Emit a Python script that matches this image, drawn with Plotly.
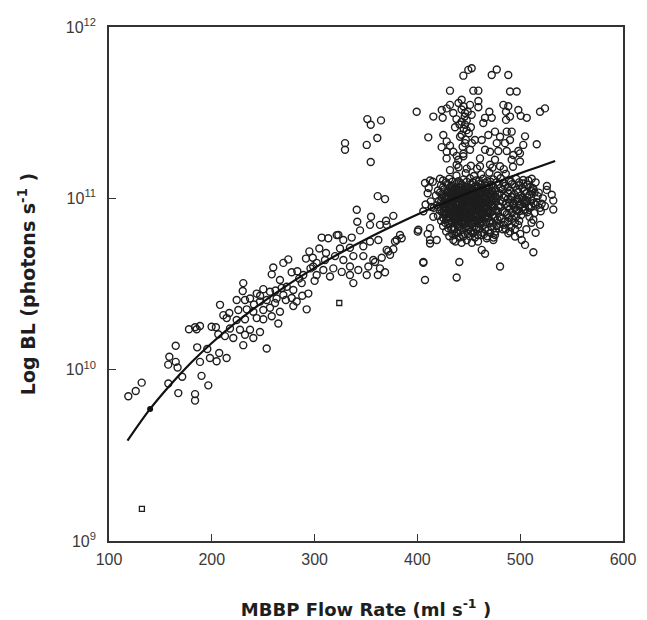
import plotly.graph_objects as go

# ---- data (flow rate in ml/s, BL in photons/s) ----
low_points = [
    (118.8, 7.0e9), (126, 7.5e9), (131.8, 8.4e9), (164.9, 1.38e10), (158.7, 1.19e10),
    (157.6, 1.07e10), (164.9, 1.11e10), (166.7, 1.03e10), (157.7, 8.3e9), (167.4, 7.3e9),
    (171.2, 9.1e9), (177.8, 1.72e10), (183.7, 1.77e10), (188.5, 1.80e10), (185.3, 1.72e10),
    (199.8, 1.78e10), (204, 1.77e10), (185.8, 1.35e10), (188.5, 1.11e10), (198.2, 1.17e10),
    (195.6, 1.32e10), (190, 9.2e9), (196.6, 8.1e9), (183.7, 7.2e9), (183.7, 6.6e9),
    (207.2, 1.25e10), (204.7, 1.12e10), (214.4, 1.17e10), (208, 2.39e10), (211.2, 2.08e10),
    (206.3, 1.61e10), (212.8, 1.57e10), (217, 2.14e10),
]

mid_points = [
    (306.9, 5.9e10), (313.3, 5.85e10), (321.5, 6.1e10), (294.9, 4.9e10), (304.6, 5.1e10),
    (311.1, 4.8e10), (269.6, 4.2e10), (274.4, 4.4e10), (291.6, 4.45e10), (298.2, 4.5e10),
    (302, 4.2e10), (259.8, 3.95e10), (258.3, 3.6e10), (277.7, 3.7e10), (283.2, 3.75e10),
    (289, 3.57e10), (266.3, 3.34e10), (230.6, 3.2e10), (230.1, 2.88e10), (243.7, 2.78e10),
    (250.1, 2.95e10), (256.6, 2.85e10), (272.9, 3.05e10), (279.3, 2.92e10), (287.5, 3.2e10),
    (293.9, 2.78e10), (224.2, 2.55e10), (232.3, 2.55e10), (237.2, 2.6e10), (246.9, 2.5e10),
    (253.4, 2.55e10), (261.5, 2.45e10), (269.6, 2.73e10), (277.7, 2.62e10), (282.6, 2.5e10),
    (225.8, 2.23e10), (234, 2.25e10), (240.4, 2.18e10), (250.1, 2.23e10), (256.6, 2.3e10),
    (266.3, 2.18e10), (279.3, 2.35e10), (292.3, 2.25e10), (214.5, 2.0e10), (224.2, 1.95e10),
    (232.3, 1.97e10), (243.7, 2.0e10), (250.1, 1.97e10), (258.3, 2.05e10), (264.7, 1.86e10),
    (217.7, 1.74e10), (227.4, 1.71e10), (237.2, 1.71e10), (246.9, 1.66e10), (220.9, 1.53e10),
    (232.3, 1.6e10), (240.4, 1.53e10), (230.6, 1.39e10), (253.4, 1.33e10),
    (262, 2.9e10), (268, 3.0e10), (285, 3.4e10), (247, 2.7e10), (272, 2.55e10),
    (288, 2.7e10), (300, 3.3e10), (296, 3.9e10), (241, 2.4e10), (263, 2.6e10),
]

upper_mid_points = [
    (354.6, 1.63e11), (407.4, 1.23e11), (412.3, 1.27e11), (361.4, 1.03e11), (368.5, 9.9e10),
    (341, 8.57e10), (354.9, 7.8e10), (341.5, 7.3e10), (353.9, 7.0e10), (369.5, 7.4e10),
    (376.6, 7.9e10), (400.3, 6.4e10), (410, 6.2e10), (412.3, 5.71e10), (413.9, 8.9e10),
    (405.8, 8.4e10), (323.1, 6.11e10), (327.9, 5.71e10), (336.1, 5.9e10), (344.2, 6.5e10),
    (363.6, 7.0e10), (370.1, 7.0e10), (383.1, 6.11e10), (379.9, 5.71e10), (384.7, 5.85e10),
    (362, 5.71e10), (353.9, 5.6e10), (347.4, 5.25e10), (370.1, 5.0e10), (376.6, 5.05e10),
    (373.4, 4.68e10), (324.7, 5.1e10), (334.4, 5.15e10), (310.1, 4.37e10), (319.9, 4.6e10),
    (328, 4.37e10), (337.7, 4.6e10), (347.4, 4.6e10), (357.1, 4.37e10), (365.3, 4.5e10),
    (298.7, 4.0e10), (308.5, 3.82e10), (318.2, 3.9e10), (326.4, 3.72e10), (334.4, 4.0e10),
    (342.5, 3.82e10), (352.3, 4.0e10), (363.6, 3.9e10), (302, 3.57e10), (315, 3.5e10),
    (334.4, 3.57e10), (350.7, 3.57e10), (405.8, 4.2e10), (351.3, 2.9e11), (354.6, 2.69e11),
    (364.6, 2.85e11), (399.3, 3.2e11), (329.6, 2.1e11), (329.6, 1.92e11), (350.7, 2.05e11),
    (361, 2.25e11), (378.2, 5.6e10), (371.7, 4.9e10), (337.7, 3.2e10), (358.8, 4.25e10),
    (368.5, 3.7e10), (361.5, 3.57e10),
]

high_points = [
    (444.7, 5.2e11), (449.5, 5.62e11), (452.8, 5.75e11), (472.3, 5.25e11), (477.2, 5.65e11),
    (488.4, 5.25e11), (431.7, 4.25e11), (454.4, 4.25e11), (459.3, 4.25e11), (490.1, 4.2e11),
    (496.6, 4.2e11), (415.5, 3.0e11), (423.7, 3.28e11), (424.6, 2.95e11), (431.7, 3.51e11),
    (428.5, 3.35e11), (434.9, 3.15e11), (443.1, 3.76e11), (444.7, 3.45e11), (451.2, 3.51e11),
    (446.3, 3.15e11), (452.8, 3.07e11), (459.3, 3.7e11), (459.3, 3.4e11), (443.1, 2.8e11),
    (446.3, 2.69e11), (436.6, 2.6e11), (447.9, 2.5e11), (470, 3.2e11), (465.8, 2.95e11),
    (472.3, 2.95e11), (464.1, 2.75e11), (483.6, 3.51e11), (488.4, 3.45e11), (486.2, 3.2e11),
    (490.1, 3.0e11), (486.2, 2.87e11), (498.2, 3.28e11), (500.5, 3.03e11), (506.4, 2.95e11),
    (519.3, 3.2e11), (524.1, 3.35e11), (410.6, 2.27e11), (425.2, 2.34e11), (428.5, 2.15e11),
    (423.6, 1.99e11), (431.7, 2.03e11), (434.9, 1.87e11), (441.5, 2.29e11), (446.3, 2.1e11),
    (451.2, 1.92e11), (444.7, 1.76e11), (456, 2.19e11), (462.6, 2.19e11), (469, 2.34e11),
    (475.5, 2.45e11), (480.4, 2.29e11), (486.9, 2.45e11), (491.7, 2.45e11), (477.2, 2.1e11),
    (485.2, 2.1e11), (490.1, 2.19e11), (504.7, 2.3e11), (516.1, 2.07e11), (503, 2.05e11),
    (465.8, 1.92e11), (470.6, 1.87e11), (478.7, 1.89e11), (486.9, 1.89e11), (498.2, 1.89e11),
    (428.4, 1.71e11), (439.8, 1.68e11), (460.9, 1.71e11), (475.5, 1.68e11), (491.7, 1.68e11),
    (499.8, 1.64e11), (460.9, 1.54e11), (470.6, 1.57e11), (480.4, 1.54e11), (438.2, 1.57e11),
    (448, 1.49e11), (431.7, 1.46e11), (428.5, 1.87e11), (438.2, 1.77e11), (444.7, 1.82e11),
    (493.3, 1.79e11), (499.8, 1.83e11), (422, 1.3e11), (511.2, 1.3e11), (525.8, 1.12e11),
    (530.7, 1.05e11), (532.2, 9.7e10), (532.2, 8.6e10), (503, 1.22e11), (511.2, 1.1e11),
    (519.3, 8.8e10), (520.9, 9.3e10), (519.3, 7.0e10), (512.8, 7.5e10), (400.9, 6.55e10),
    (412.3, 6.7e10), (415.5, 7.8e10), (412.3, 5.45e10), (418.8, 5.71e10), (434.9, 5.71e10),
    (444.7, 5.98e10), (454.4, 6.25e10), (467.4, 5.85e10), (473.9, 5.71e10), (462.6, 5.0e10),
    (465.8, 4.75e10), (475.5, 6.11e10), (488.4, 6.25e10), (501.5, 5.71e10), (504.7, 5.35e10),
    (495, 5.98e10), (512.8, 4.85e10), (405.8, 4.25e10), (440.8, 4.25e10), (480.4, 4.0e10),
    (407.4, 3.34e10), (438.2, 3.45e10),
    (440, 3.6e11), (443, 3.3e11), (446, 3.0e11), (448, 2.85e11), (441, 2.7e11),
    (445, 2.55e11), (450, 2.4e11), (443, 2.35e11), (447, 2.2e11), (452, 2.6e11),
    (449, 3.2e11), (438, 2.9e11), (444, 2.0e11), (453, 2.1e11),
    (440, 1.52e11), (452, 1.55e11), (458, 1.49e11), (473, 1.51e11), (484, 1.48e11), (493, 1.53e11),
]

core_points = [
    (438, 1.36e11), (447, 1.40e11), (455, 1.35e11), (462, 1.38e11), (470, 1.41e11), (478, 1.36e11), (486, 1.39e11),
    (425, 1.27e11), (431, 1.30e11), (440, 1.26e11), (445, 1.29e11), (451, 1.31e11), (457, 1.27e11), (464, 1.30e11),
    (468, 1.26e11), (474, 1.29e11), (481, 1.31e11), (489, 1.27e11), (496, 1.30e11), (503, 1.28e11),
    (423, 1.19e11), (429, 1.21e11), (434, 1.18e11), (438, 1.22e11), (443, 1.20e11), (448, 1.17e11), (452, 1.21e11),
    (457, 1.19e11), (461, 1.22e11), (467, 1.18e11), (472, 1.20e11), (479, 1.21e11), (485, 1.18e11), (492, 1.21e11),
    (499, 1.19e11), (507, 1.20e11),
    (420, 1.11e11), (426, 1.13e11), (431, 1.10e11), (436, 1.14e11), (440, 1.11e11), (445, 1.13e11), (449, 1.10e11),
    (454, 1.12e11), (459, 1.14e11), (463, 1.11e11), (469, 1.12e11), (476, 1.10e11), (483, 1.13e11), (490, 1.11e11),
    (497, 1.12e11), (504, 1.10e11), (513, 1.13e11),
    (418, 1.04e11), (424, 1.06e11), (428, 1.03e11), (433, 1.05e11), (437, 1.07e11), (442, 1.04e11), (446, 1.06e11),
    (451, 1.03e11), (456, 1.05e11), (460, 1.07e11), (466, 1.04e11), (471, 1.06e11), (478, 1.05e11), (486, 1.03e11),
    (494, 1.06e11), (501, 1.04e11), (509, 1.05e11), (517, 1.03e11),
    (421, 9.7e10), (427, 9.9e10), (432, 9.6e10), (436, 9.8e10), (441, 1.00e11), (445, 9.7e10), (449, 9.9e10),
    (453, 9.6e10), (458, 9.8e10), (463, 1.00e11), (468, 9.7e10), (474, 9.9e10), (481, 9.7e10), (488, 9.9e10),
    (495, 9.6e10), (503, 9.8e10), (511, 9.7e10),
    (419, 9.1e10), (425, 9.3e10), (430, 9.0e10), (434, 9.2e10), (438, 9.4e10), (443, 9.1e10), (447, 9.3e10),
    (451, 9.0e10), (456, 9.2e10), (461, 9.4e10), (466, 9.1e10), (472, 9.2e10), (479, 9.0e10), (486, 9.3e10),
    (493, 9.1e10), (500, 9.2e10), (508, 9.0e10), (515, 9.2e10),
    (422, 8.5e10), (427, 8.7e10), (432, 8.4e10), (436, 8.6e10), (440, 8.8e10), (444, 8.5e10), (449, 8.7e10),
    (454, 8.4e10), (458, 8.6e10), (464, 8.8e10), (469, 8.5e10), (476, 8.6e10), (483, 8.4e10), (490, 8.7e10),
    (497, 8.5e10), (505, 8.6e10),
    (420, 7.9e10), (426, 8.1e10), (430, 7.8e10), (435, 8.0e10), (439, 8.2e10), (443, 7.9e10), (447, 8.1e10),
    (452, 7.8e10), (457, 8.0e10), (462, 8.2e10), (467, 7.9e10), (473, 8.0e10), (480, 7.8e10), (487, 8.1e10),
    (494, 7.9e10), (501, 8.0e10), (509, 7.8e10),
    (423, 7.4e10), (428, 7.6e10), (433, 7.3e10), (437, 7.5e10), (441, 7.7e10), (446, 7.4e10), (450, 7.6e10),
    (455, 7.3e10), (460, 7.5e10), (466, 7.7e10), (471, 7.4e10), (478, 7.5e10), (485, 7.3e10), (492, 7.6e10),
    (499, 7.4e10),
    (425, 6.9e10), (430, 7.1e10), (435, 6.8e10), (439, 7.0e10), (444, 7.2e10), (448, 6.9e10), (453, 7.1e10),
    (458, 6.8e10), (464, 7.0e10), (470, 7.2e10), (477, 6.9e10), (484, 7.0e10), (491, 6.8e10), (498, 7.0e10),
    (428, 6.4e10), (433, 6.6e10), (438, 6.3e10), (442, 6.5e10), (447, 6.7e10), (452, 6.4e10), (457, 6.6e10),
    (463, 6.3e10), (469, 6.5e10), (476, 6.4e10), (483, 6.6e10), (490, 6.4e10),
    (431, 6.0e10), (436, 6.1e10), (441, 5.9e10), (446, 6.2e10), (451, 6.0e10), (456, 5.9e10), (462, 6.1e10),
    (468, 6.0e10), (474, 5.9e10),
    (437, 5.6e10), (443, 5.5e10), (448, 5.7e10), (453, 5.5e10), (459, 5.6e10),
    (512, 1.15e11), (518, 1.08e11), (522, 1.0e11), (516, 9.5e10), (520, 8.4e10), (524, 9.0e10), (514, 8.2e10),
    (511, 7.2e10), (506, 6.6e10), (515, 6.3e10), (500, 6.2e10), (495, 6.6e10), (526, 1.18e11), (508, 1.27e11),
    (515, 1.24e11), (410, 1.07e11), (413, 9.6e10), (416, 8.8e10), (411, 1.15e11), (415, 1.25e11), (408, 9.2e10),
]

core_fill_points = [
    (428, 1.24e11), (434, 1.25e11), (442, 1.23e11), (448, 1.25e11), (454, 1.24e11), (460, 1.26e11),
    (466, 1.23e11), (471, 1.25e11), (477, 1.24e11), (484, 1.23e11), (491, 1.25e11), (499, 1.24e11),
    (425, 1.16e11), (432, 1.17e11), (436, 1.15e11), (441, 1.16e11), (446, 1.17e11), (450, 1.15e11),
    (455, 1.16e11), (459, 1.17e11), (464, 1.15e11), (470, 1.16e11), (474, 1.17e11), (481, 1.15e11),
    (488, 1.16e11), (495, 1.17e11), (502, 1.15e11), (510, 1.16e11),
    (422, 1.08e11), (429, 1.09e11), (434, 1.07e11), (438, 1.08e11), (443, 1.09e11), (447, 1.07e11),
    (452, 1.08e11), (457, 1.09e11), (462, 1.07e11), (467, 1.08e11), (473, 1.09e11), (480, 1.07e11),
    (488, 1.08e11), (498, 1.09e11), (506, 1.07e11), (514, 1.08e11),
    (424, 1.01e11), (430, 1.02e11), (434, 1.00e11), (439, 1.01e11), (443, 1.02e11), (447, 1.00e11),
    (451, 1.01e11), (455, 1.02e11), (461, 1.00e11), (465, 1.01e11), (471, 1.02e11), (477, 1.00e11),
    (484, 1.01e11), (491, 1.02e11), (499, 1.00e11), (507, 1.01e11),
    (423, 9.5e10), (428, 9.4e10), (433, 9.6e10), (437, 9.5e10), (441, 9.4e10), (445, 9.6e10),
    (449, 9.5e10), (454, 9.4e10), (459, 9.6e10), (464, 9.5e10), (470, 9.4e10), (476, 9.6e10),
    (483, 9.5e10), (490, 9.4e10), (498, 9.6e10), (506, 9.5e10), (513, 9.4e10),
    (421, 8.9e10), (426, 9.0e10), (431, 8.8e10), (435, 8.9e10), (439, 9.0e10), (443, 8.8e10),
    (448, 8.9e10), (452, 9.0e10), (457, 8.8e10), (462, 8.9e10), (467, 9.0e10), (474, 8.8e10),
    (481, 8.9e10), (488, 9.0e10), (495, 8.8e10), (503, 8.9e10), (511, 9.0e10),
    (424, 8.3e10), (429, 8.2e10), (433, 8.4e10), (438, 8.3e10), (442, 8.2e10), (446, 8.4e10),
    (451, 8.3e10), (455, 8.2e10), (460, 8.4e10), (465, 8.3e10), (471, 8.2e10), (478, 8.4e10),
    (485, 8.3e10), (492, 8.2e10), (499, 8.4e10), (507, 8.3e10),
    (425, 7.7e10), (431, 7.8e10), (435, 7.6e10), (439, 7.7e10), (444, 7.8e10), (448, 7.6e10),
    (453, 7.7e10), (458, 7.8e10), (463, 7.6e10), (469, 7.7e10), (475, 7.8e10), (482, 7.6e10),
    (489, 7.7e10), (496, 7.8e10),
    (427, 7.2e10), (432, 7.1e10), (437, 7.3e10), (442, 7.2e10), (446, 7.1e10), (451, 7.3e10),
    (456, 7.2e10), (461, 7.1e10), (467, 7.3e10), (473, 7.2e10), (480, 7.1e10), (488, 7.3e10), (495, 7.2e10),
    (430, 6.7e10), (436, 6.6e10), (440, 6.8e10), (445, 6.7e10), (450, 6.6e10), (455, 6.8e10),
    (460, 6.7e10), (466, 6.6e10), (472, 6.8e10), (479, 6.7e10), (486, 6.6e10),
    (434, 6.2e10), (439, 6.3e10), (444, 6.1e10), (449, 6.2e10), (454, 6.3e10), (459, 6.1e10),
    (465, 6.2e10), (471, 6.3e10),
]

core_dense_points = [
    (433, 1.14e11), (437, 1.14e11), (442, 1.15e11), (447, 1.14e11), (452, 1.13e11), (457, 1.14e11), (462, 1.15e11), (467, 1.14e11),
    (429, 1.10e11), (434, 1.10e11), (439, 1.09e11), (443, 1.10e11), (448, 1.11e11), (452, 1.10e11), (457, 1.10e11),
    (461, 1.09e11), (466, 1.10e11), (472, 1.11e11),
    (431, 1.06e11), (435, 1.06e11), (440, 1.07e11), (444, 1.06e11), (449, 1.05e11), (453, 1.06e11), (458, 1.06e11),
    (463, 1.07e11), (468, 1.06e11), (474, 1.05e11),
    (426, 1.03e11), (430, 1.03e11), (435, 1.02e11), (439, 1.03e11), (444, 1.04e11), (448, 1.03e11), (453, 1.03e11),
    (458, 1.02e11), (463, 1.03e11), (469, 1.04e11), (476, 1.03e11),
    (429, 9.9e10), (434, 9.9e10), (438, 1.00e11), (443, 9.9e10), (447, 9.8e10), (452, 9.9e10), (456, 9.9e10),
    (461, 1.00e11), (466, 9.9e10), (472, 9.8e10),
    (426, 9.6e10), (431, 9.6e10), (435, 9.7e10), (440, 9.6e10), (444, 9.5e10), (448, 9.6e10), (453, 9.6e10),
    (457, 9.7e10), (462, 9.6e10), (467, 9.5e10), (473, 9.6e10),
    (428, 9.3e10), (433, 9.3e10), (437, 9.2e10), (441, 9.3e10), (446, 9.4e10), (450, 9.3e10), (455, 9.3e10),
    (459, 9.2e10), (464, 9.3e10), (470, 9.4e10),
    (425, 9.0e10), (430, 9.0e10), (434, 9.1e10), (439, 9.0e10), (443, 8.9e10), (448, 9.0e10), (452, 9.0e10),
    (457, 9.1e10), (461, 9.0e10), (466, 8.9e10), (472, 9.0e10),
    (428, 8.7e10), (432, 8.7e10), (437, 8.8e10), (441, 8.7e10), (446, 8.6e10), (450, 8.7e10), (455, 8.7e10),
    (460, 8.8e10), (465, 8.7e10), (470, 8.6e10),
    (426, 8.4e10), (430, 8.4e10), (434, 8.5e10), (439, 8.4e10), (443, 8.3e10), (448, 8.4e10), (452, 8.4e10),
    (457, 8.5e10), (462, 8.4e10), (467, 8.3e10), (473, 8.4e10),
    (428, 8.1e10), (432, 8.1e10), (436, 8.0e10), (441, 8.1e10), (445, 8.2e10), (450, 8.1e10), (455, 8.1e10),
    (459, 8.0e10), (464, 8.1e10), (469, 8.2e10),
    (430, 7.8e10), (434, 7.8e10), (438, 7.9e10), (443, 7.8e10), (447, 7.7e10), (452, 7.8e10), (457, 7.8e10),
    (461, 7.9e10), (466, 7.8e10),
    (432, 7.5e10), (436, 7.5e10), (440, 7.4e10), (445, 7.5e10), (449, 7.6e10), (454, 7.5e10), (458, 7.5e10), (463, 7.4e10),
    (434, 7.2e10), (438, 7.2e10), (443, 7.3e10), (447, 7.2e10), (452, 7.1e10), (456, 7.2e10), (461, 7.2e10),
    (492, 1.02e11), (497, 9.9e10), (502, 1.01e11), (507, 9.6e10), (494, 9.3e10), (499, 9.0e10), (504, 9.3e10),
    (509, 8.8e10), (496, 8.6e10), (503, 8.5e10),
]

square_points = [(132, 1.54e9), (324, 2.45e10)]

curve_flow = [118, 140, 160, 180, 200, 225, 250, 275, 300, 325, 350, 375, 400, 425, 450, 475, 500, 525, 534]
curve_bl = [3.85e9, 5.9e9, 8.2e9, 1.10e10, 1.43e10, 1.92e10, 2.49e10, 3.16e10, 3.93e10, 4.80e10, 5.77e10,
            6.84e10, 8.04e10, 9.35e10, 1.08e11, 1.23e11, 1.40e11, 1.58e11, 1.65e11]

dot_flow = [140]
dot_bl = [5.9e9]

x_ticks = [100, 200, 300, 400, 500, 600]
y_ticks = [1e9, 1e10, 1e11, 1e12]
y_tick_text = ["10<sup>9</sup>", "10<sup>10</sup>", "10<sup>11</sup>", "10<sup>12</sup>"]

all_pts = (low_points + mid_points + upper_mid_points + high_points
           + core_points + core_fill_points + core_dense_points)
px = [p[0] for p in all_pts]
py = [p[1] for p in all_pts]

FONT = "Liberation Sans, Arial, Helvetica, sans-serif"
TITLE_FONT = "DejaVu Sans, Liberation Sans, Arial, sans-serif"
INK = "#1e1e1e"

fig = go.Figure()
fig.add_trace(go.Scatter(
    x=px, y=py, mode="markers",
    marker=dict(symbol="circle-open", size=7, color=INK, line=dict(width=1.4, color=INK)),
    showlegend=False, hoverinfo="skip"))
fig.add_trace(go.Scatter(
    x=[p[0] for p in square_points], y=[p[1] for p in square_points], mode="markers",
    marker=dict(symbol="square-open", size=5, color=INK, line=dict(width=1.3, color=INK)),
    showlegend=False))
fig.add_trace(go.Scatter(
    x=curve_flow, y=curve_bl, mode="lines",
    line=dict(color="#111111", width=2.2, shape="spline"), showlegend=False))
fig.add_trace(go.Scatter(
    x=dot_flow, y=dot_bl, mode="markers",
    marker=dict(symbol="circle", size=6, color="#111111"), showlegend=False))

axis_common = dict(
    showline=True, linecolor="#333333", linewidth=1.6, mirror=True,
    ticks="inside", ticklen=7, tickwidth=1.2, tickcolor="#333333",
    showgrid=False, zeroline=False, automargin=False,
    tickfont=dict(family=FONT, size=16, color="#3a3a3a"),
)

# the page body adds an 8px offset at top/left, so the figure is 8px smaller
fig.update_layout(
    width=639, height=612,
    margin=dict(l=101, r=24, t=19, b=79),
    plot_bgcolor="white", paper_bgcolor="white",
    font=dict(family=FONT, color=INK),
    xaxis=dict(range=[100, 600], tickvals=x_ticks, ticktext=[str(v) for v in x_ticks],
               ticklabelstandoff=3,
               title=dict(text="<b>MBBP Flow Rate (ml s<sup>-1</sup> )</b>",
                          font=dict(family=TITLE_FONT, size=18, color=INK), standoff=40),
               **axis_common),
    yaxis=dict(type="log", range=[9, 12], tickvals=y_ticks, ticktext=y_tick_text,
               ticklabelstandoff=8,
               title=dict(text="<b>Log BL (photons s<sup>-1</sup> )</b>",
                          font=dict(family=TITLE_FONT, size=19, color=INK), standoff=25),
               **axis_common),
)

fig.write_html("out.html")
